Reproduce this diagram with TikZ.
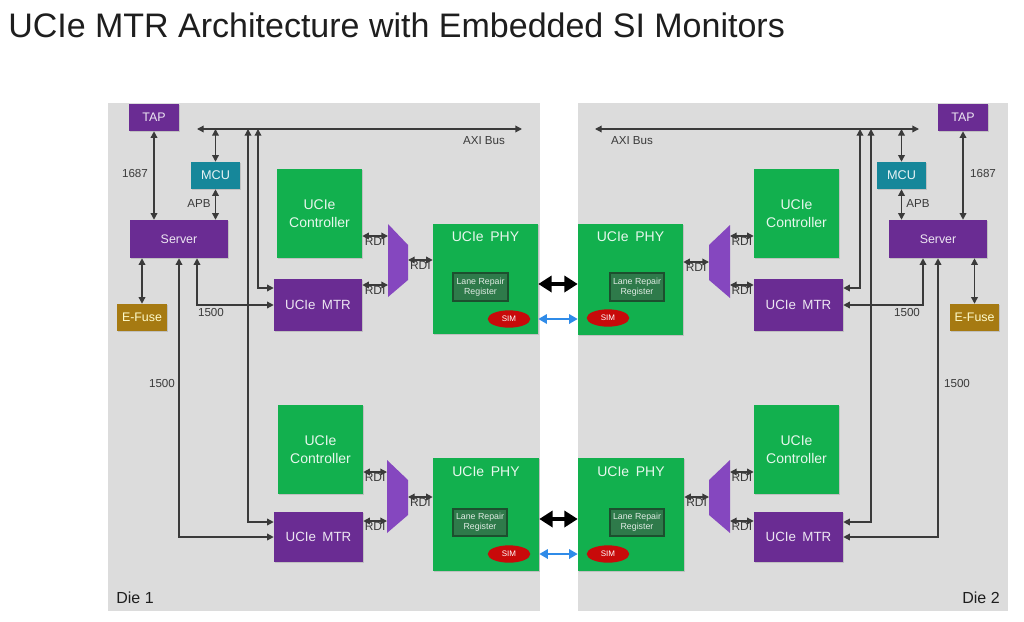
\documentclass[tikz,border=0pt]{standalone}
\usepackage{fontspec}
\setmainfont{Liberation Sans}
\usetikzlibrary{arrows.meta,shapes.geometric,shadows}
\definecolor{diebg}{HTML}{DCDCDC}
\definecolor{upurple}{HTML}{6A2C93}
\definecolor{muxpurple}{HTML}{8547BF}
\definecolor{ugreen}{HTML}{12B04E}
\definecolor{lrgreen}{HTML}{2E7A4A}
\definecolor{lrborder}{HTML}{1C4F2E}
\definecolor{mcuteal}{HTML}{16879A}
\definecolor{efusec}{HTML}{A67A12}
\definecolor{simred}{HTML}{C80A0A}
\definecolor{linec}{HTML}{3A3A3A}
\definecolor{blueline}{HTML}{2F8BE8}
\definecolor{titlec}{HTML}{1E1E1E}
\newcommand\bx[7]{\node[#1,minimum width={(#5-#3)*0.75pt},minimum height={(#6-#4)*0.75pt}] (#2) at ({(#3+#5)/2},{(#4+#6)/2}) {#7};}
\tikzset{
  box/.style={inner sep=0pt, align=center, drop shadow={shadow xshift=1pt,shadow yshift=-1pt,opacity=0.3}},
  diebox/.style={fill=diebg, inner sep=0pt},
  pbox/.style={box, fill=upurple, text=white!88!upurple, font=\fontsize{9.3}{11}\selectfont},
  tbox/.style={box, fill=mcuteal, text=white!90!mcuteal, font=\fontsize{9.5}{11}\selectfont},
  ebox/.style={box, fill=efusec, text=yellow!20!white, font=\fontsize{9.3}{11}\selectfont},
  gbox/.style={box, fill=ugreen, text=white!90!ugreen, font=\fontsize{10.5}{13.5}\selectfont},
  mtrbox/.style={box, fill=upurple, text=white!88!upurple, font=\fontsize{10}{12}\selectfont},
  phyt/.style={inner sep=0pt, text=white!90!ugreen, font=\fontsize{10.5}{12}\selectfont},
  lrbox/.style={inner sep=0pt, fill=lrgreen, draw=lrborder, line width=0.8pt, text=white!85!lrgreen, align=center, font=\fontsize{6.6}{7.2}\selectfont},
  simnode/.style={ellipse, fill=simred, text=white, inner sep=0pt, minimum width=32pt, minimum height=13pt, font=\fontsize{6}{6}\selectfont},
  mux/.style={fill=muxpurple},
  conn/.style={draw=linec, line width=1pt, {Triangle[length=5pt,width=5pt]}-{Triangle[length=5pt,width=5pt]}},
  lbl/.style={text=linec, font=\fontsize{8.7}{10}\selectfont, inner sep=1pt},
  rdil/.style={text=linec, font=\fontsize{9}{9}\selectfont, inner sep=0pt, below=0.3pt},
  fat/.style={draw=black, line width=3pt, {Triangle[length=10pt,width=12pt]}-{Triangle[length=10pt,width=12pt]}},
  bluearr/.style={draw=blueline, line width=1.8pt, {Triangle[length=6.5pt,width=7pt]}-{Triangle[length=6.5pt,width=7pt]}},
  dielbl/.style={text=titlec, font=\fontsize{12}{14}\selectfont, inner sep=0pt}
}
\begin{document}
\begin{tikzpicture}[x=0.75pt,y=-0.75pt]
\useasboundingbox[fill=white] (0,0) rectangle (1024,621);
\node[anchor=base west, inner sep=0pt, text=titlec, font=\fontsize{25.5}{30}\selectfont] (title) at (8,37) {UCIe MTR Architecture with Embedded SI Monitors};

% ---------------- Die backgrounds
\bx{diebox}{die1}{108}{103}{540}{611}{}
\bx{diebox}{die2}{578}{103}{1008}{611}{}
\node[dielbl] (die1l) at (135,598) {Die 1};
\node[dielbl] (die2l) at (981,598) {Die 2};

% ================= Die 1
\bx{pbox}{tap1}{129}{104}{179}{131}{TAP}
\bx{tbox}{mcu1}{191}{162}{240}{189}{MCU}
\bx{pbox}{srv1}{130}{220}{228}{258}{Server}
\bx{ebox}{ef1}{117}{304}{167}{331}{E-Fuse}

\bx{gbox}{ctlA1}{277}{169}{362}{258}{UCIe\\Controller}
\bx{mtrbox}{mtrA1}{274}{279}{362}{331}{UCIe\hspace{0.2em} MTR}
\bx{gbox}{phyA1}{433}{224}{538}{334}{}
\node[phyt] (phyA1t) at (485.5,237) {UCIe\hspace{0.2em} PHY};
\bx{lrbox}{lrA1}{453}{273}{508}{301}{Lane Repair\\Register}
\node[simnode] (simA1) at (509,319) {SIM};
\fill[mux] (388,224) -- (408,245) -- (408,280) -- (388,297) -- cycle;
\coordinate (muxA1l) at (388,260);
\coordinate (muxA1r) at (408,260);

\bx{gbox}{ctlB1}{278}{405}{363}{494}{UCIe\\Controller}
\bx{mtrbox}{mtrB1}{274}{512}{363}{562}{UCIe\hspace{0.2em} MTR}
\bx{gbox}{phyB1}{433}{458}{539}{571}{}
\node[phyt] (phyB1t) at (486,472) {UCIe\hspace{0.2em} PHY};
\bx{lrbox}{lrB1}{453}{509}{507}{536}{Lane Repair\\Register}
\node[simnode] (simB1) at (509,554) {SIM};
\fill[mux] (387,460) -- (408,480) -- (408,515) -- (387,533) -- cycle;
\coordinate (muxB1l) at (387,497);
\coordinate (muxB1r) at (408,497);

\coordinate (axiL1) at (197,129);
\coordinate (axiR1) at (522,129);
\draw[conn] (axiL1) -- (axiR1);
\node[lbl] (axil1) at (484,141) {AXI Bus};
\draw[conn] (mcu1.north) -- (mcu1.north |- axiL1);
\draw[conn] (tap1.south) -- (tap1.south |- srv1.north);
\node[lbl] (l1687a) at (135,174) {1687};
\draw[conn] (mcu1.south) -- (mcu1.south |- srv1.north);
\node[lbl] (apb1) at (199,204) {APB};
\draw[conn] (ef1.north) -- (ef1.north |- srv1.south);
\draw[conn] (srv1.south -| 197,0) |- (mtrA1.west |- 0,305);
\node[lbl] (l1500a) at (211,313) {1500};
\draw[conn] (srv1.south -| 179,0) |- (mtrB1.west |- 0,537);
\node[lbl] (l1500b) at (162,384) {1500};
\draw[conn] (axiL1 -| 258,0) |- (mtrA1.west |- 0,288);
\draw[conn] (axiL1 -| 248,0) |- (mtrB1.west |- 0,522);

\draw[conn] (ctlA1.east |- 0,236) -- (muxA1l |- 0,236) node[rdil, midway] {RDI};
\draw[conn] (mtrA1.east |- 0,285) -- (muxA1l |- 0,285) node[rdil, midway] {RDI};
\draw[conn] (muxA1r) -- (phyA1.west |- muxA1r) node[rdil, midway] {RDI};
\draw[conn] (ctlB1.east |- 0,472) -- (muxB1l |- 0,472) node[rdil, midway] {RDI};
\draw[conn] (mtrB1.east |- 0,521) -- (muxB1l |- 0,521) node[rdil, midway] {RDI};
\draw[conn] (muxB1r) -- (phyB1.west |- muxB1r) node[rdil, midway] {RDI};

% ================= Die 2
\bx{pbox}{tap2}{938}{104}{988}{131}{TAP}
\bx{tbox}{mcu2}{877}{162}{926}{189}{MCU}
\bx{pbox}{srv2}{889}{220}{987}{258}{Server}
\bx{ebox}{ef2}{950}{304}{999}{331}{E-Fuse}

\bx{gbox}{ctlA2}{754}{169}{839}{258}{UCIe\\Controller}
\bx{mtrbox}{mtrA2}{754}{279}{843}{331}{UCIe\hspace{0.2em} MTR}
\bx{gbox}{phyA2}{578}{224}{683}{335}{}
\node[phyt] (phyA2t) at (630.5,237) {UCIe\hspace{0.2em} PHY};
\bx{lrbox}{lrA2}{610}{273}{664}{301}{Lane Repair\\Register}
\node[simnode] (simA2) at (608,318) {SIM};
\fill[mux] (730,225) -- (709,245) -- (709,280) -- (730,298) -- cycle;
\coordinate (muxA2l) at (709,262);
\coordinate (muxA2r) at (730,262);

\bx{gbox}{ctlB2}{754}{405}{839}{494}{UCIe\\Controller}
\bx{mtrbox}{mtrB2}{754}{512}{843}{562}{UCIe\hspace{0.2em} MTR}
\bx{gbox}{phyB2}{578}{458}{684}{571}{}
\node[phyt] (phyB2t) at (631,472) {UCIe\hspace{0.2em} PHY};
\bx{lrbox}{lrB2}{610}{509}{664}{536}{Lane Repair\\Register}
\node[simnode] (simB2) at (608,554) {SIM};
\fill[mux] (730,460) -- (709,480) -- (709,515) -- (730,533) -- cycle;
\coordinate (muxB2l) at (709,497);
\coordinate (muxB2r) at (730,497);

\coordinate (axiL2) at (595,129);
\coordinate (axiR2) at (919,129);
\draw[conn] (axiL2) -- (axiR2);
\node[lbl] (axil2) at (632,141) {AXI Bus};
\draw[conn] (mcu2.north) -- (mcu2.north |- axiL2);
\draw[conn] (tap2.south) -- (tap2.south |- srv2.north);
\node[lbl] (l1687b) at (983,174) {1687};
\draw[conn] (mcu2.south) -- (mcu2.south |- srv2.north);
\node[lbl] (apb2) at (918,204) {APB};
\draw[conn] (ef2.north) -- (ef2.north |- srv2.south);
\draw[conn] (srv2.south -| 923,0) |- (mtrA2.east |- 0,305);
\node[lbl] (l1500c) at (907,313) {1500};
\draw[conn] (srv2.south -| 938,0) |- (mtrB2.east |- 0,537);
\node[lbl] (l1500d) at (957,384) {1500};
\draw[conn] (axiL2 -| 860,0) |- (mtrA2.east |- 0,288);
\draw[conn] (axiL2 -| 871,0) |- (mtrB2.east |- 0,522);

\draw[conn] (ctlA2.west |- 0,236) -- (muxA2r |- 0,236) node[rdil, midway] {RDI};
\draw[conn] (mtrA2.west |- 0,285) -- (muxA2r |- 0,285) node[rdil, midway] {RDI};
\draw[conn] (muxA2l) -- (phyA2.east |- muxA2l) node[rdil, midway] {RDI};
\draw[conn] (ctlB2.west |- 0,472) -- (muxB2r |- 0,472) node[rdil, midway] {RDI};
\draw[conn] (mtrB2.west |- 0,521) -- (muxB2r |- 0,521) node[rdil, midway] {RDI};
\draw[conn] (muxB2l) -- (phyB2.east |- muxB2l) node[rdil, midway] {RDI};

% ================= Die-to-die links
\draw[fat] (phyA1.east |- 0,284) -- (phyA2.west |- 0,284);
\draw[bluearr] (phyA1.east |- simA1) -- (phyA2.west |- simA1);
\draw[fat] (phyB1.east |- 0,519) -- (phyB2.west |- 0,519);
\draw[bluearr] (phyB1.east |- simB1) -- (phyB2.west |- simB1);
\end{tikzpicture}
\end{document}
